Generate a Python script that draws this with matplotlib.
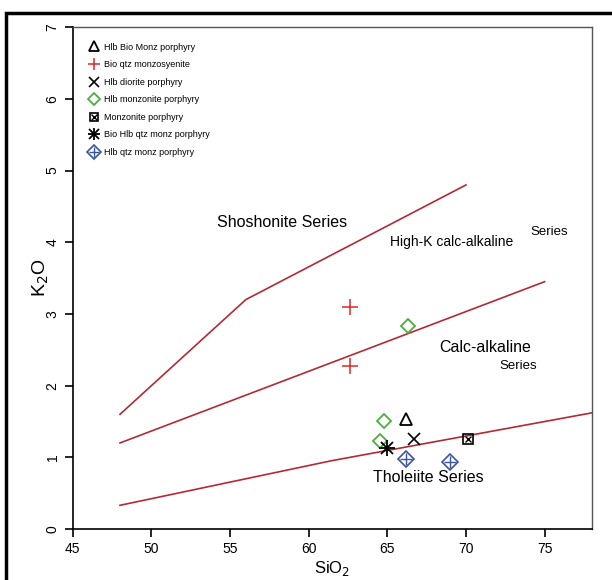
import numpy as np
import matplotlib.pyplot as plt
from matplotlib.patches import Rectangle
from matplotlib.legend_handler import HandlerTuple

plt.rcParams['font.family'] = ['Liberation Sans', 'DejaVu Sans']

# series boundary lines (SiO2, K2O)
tholeiite_x = [48, 61.4, 78]
tholeiite_y = [0.33, 0.95, 1.62]
calc_x = [48, 75]
calc_y = [1.2, 3.45]
highk_x = [48, 56, 70]
highk_y = [1.6, 3.2, 4.8]

# samples
hlb_bio_monz_x = [66.2]
hlb_bio_monz_y = [1.53]
bio_qtz_monzosyenite_x = [62.6, 62.6]
bio_qtz_monzosyenite_y = [3.09, 2.27]
hlb_diorite_x = [66.7]
hlb_diorite_y = [1.26]
hlb_monzonite_x = [66.3, 64.8, 64.55]
hlb_monzonite_y = [2.83, 1.50, 1.23]
monzonite_x = [70.1]
monzonite_y = [1.26]
bio_hlb_qtz_x = [65.0]
bio_hlb_qtz_y = [1.13]
hlb_qtz_monz_x = [66.2, 69.0]
hlb_qtz_monz_y = [0.98, 0.94]

labels = ['Hlb Bio Monz porphyry', 'Bio qtz monzosyenite', 'Hlb diorite porphyry',
          'Hlb monzonite porphyry', 'Monzonite porphyry', 'Bio Hlb qtz monz porphyry',
          'Hlb qtz monz porphyry']

line_col = '#b22a35'

fig = plt.figure(figsize=(6.12, 5.80), dpi=100)
ax = fig.add_axes([0.119, 0.088, 0.848, 0.865])

for xs, ys in [(tholeiite_x, tholeiite_y), (calc_x, calc_y), (highk_x, highk_y)]:
    ax.plot(xs, ys, color=line_col, lw=1.2)

h1, = ax.plot(hlb_bio_monz_x, hlb_bio_monz_y, '^', ms=8, mfc='none', mec='black', mew=1.3, ls='none')
h2, = ax.plot(bio_qtz_monzosyenite_x, bio_qtz_monzosyenite_y, '+', ms=11, color='#e0262b', mew=1.1, ls='none')
h3, = ax.plot(hlb_diorite_x, hlb_diorite_y, 'x', ms=8, color='black', mew=1.2, ls='none')
h4, = ax.plot(hlb_monzonite_x, hlb_monzonite_y, 'D', ms=7, mfc='none', mec='#4daf3c', mew=1.3, ls='none')
h5a, = ax.plot(monzonite_x, monzonite_y, 's', ms=7, mfc='none', mec='black', mew=1.2, ls='none')
h5b, = ax.plot(monzonite_x, monzonite_y, 'x', ms=5, color='black', mew=1.0, ls='none')
h6a, = ax.plot(bio_hlb_qtz_x, bio_hlb_qtz_y, '+', ms=11, color='black', mew=1.3, ls='none')
h6b, = ax.plot(bio_hlb_qtz_x, bio_hlb_qtz_y, 'x', ms=8, color='black', mew=1.3, ls='none')
h7a, = ax.plot(hlb_qtz_monz_x, hlb_qtz_monz_y, 'D', ms=8, mfc='none', mec='#3b55a0', mew=1.2, ls='none')
h7b, = ax.plot(hlb_qtz_monz_x, hlb_qtz_monz_y, '+', ms=9, color='#3b55a0', mew=1.0, ls='none')

handles = [h1, h2, h3, h4, (h5a, h5b), (h6a, h6b), (h7a, h7b)]
ax.legend(handles, labels, loc='upper left', frameon=False, fontsize=6.5,
          handler_map={tuple: HandlerTuple(ndivide=1, pad=0)},
          handlelength=1.2, labelspacing=0.95, borderaxespad=1.3, handletextpad=0.6,
          markerscale=0.85)

ax.text(54.15, 4.27, 'Shoshonite Series', fontsize=11.5, va='center')
ax.text(65.15, 4.0, 'High-K calc-alkaline', fontsize=10, va='center')
ax.text(74.1, 4.15, 'Series', fontsize=9.5, va='center')
ax.text(68.3, 2.53, 'Calc-alkaline', fontsize=11.5, va='center')
ax.text(72.15, 2.28, 'Series', fontsize=9.5, va='center')
ax.text(64.1, 0.72, 'Tholeiite Series', fontsize=11.5, va='center')

ax.set_xlim(45, 78)
ax.set_ylim(0, 7)
ax.set_xticks([45, 50, 55, 60, 65, 70, 75])
ax.set_yticks(range(0, 8))
ax.tick_params(direction='out', length=6, width=1.2, labelsize=10, top=False, right=False)
for lab in ax.get_yticklabels():
    lab.set_rotation(90)
    lab.set_va('center')
for s in ['top', 'right']:
    ax.spines[s].set_color('#555555')
    ax.spines[s].set_linewidth(1.0)
for s in ['left', 'bottom']:
    ax.spines[s].set_linewidth(1.2)

ax.set_xlabel('SiO$_2$', fontsize=12, labelpad=2)
ax.set_ylabel('K$_2$O', fontsize=14, labelpad=-4)

# outer frame (only left/top visible)
fig.patches.append(Rectangle((0.009, -0.1), 1.2, 0.1 + 0.977, transform=fig.transFigure,
                             fill=False, ec='black', lw=2.5))

plt.savefig('out.png', dpi=100)
